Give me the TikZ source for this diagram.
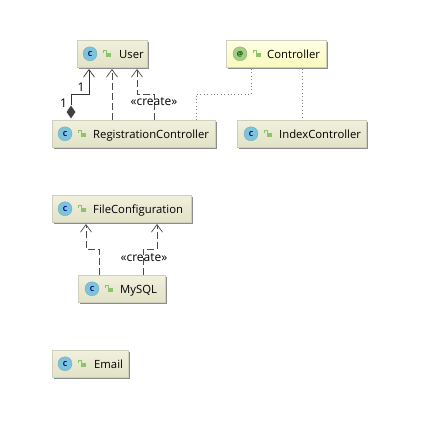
\documentclass[tikz,border=0pt]{standalone}
\usepackage{fontspec}
\setmainfont{Open Sans}
\usetikzlibrary{arrows.meta,positioning,calc,shadows,shapes.geometric}
\definecolor{boxtop}{HTML}{F0F0DE}
\definecolor{boxbot}{HTML}{E2E2C6}
\definecolor{yeltop}{HTML}{FFFFE4}
\definecolor{yelbot}{HTML}{F9F9BE}
\definecolor{boxedge}{HTML}{CFCFBE}
\definecolor{cicon}{HTML}{7CC3DB}
\definecolor{aicon}{HTML}{A4CE84}
\definecolor{lockc}{HTML}{8CC46A}
\tikzset{
  x=1pt,y=-1pt,
  umlbox/.style={draw=boxedge,line width=.5pt,anchor=north west,minimum height=27pt,inner sep=0pt,
    top color=boxtop,bottom color=boxbot,
    general shadow={shadow xshift=1.6pt,shadow yshift=-1.7pt,fill=black!45}},
  annbox/.style={umlbox,top color=yeltop,bottom color=yelbot},
  ttl/.style={font=\fontsize{11.3}{13}\selectfont,text=black,anchor=base west,inner sep=0pt,yshift=-4.6pt},
  lbl/.style={font=\fontsize{12}{14}\selectfont,text=black,inner sep=0pt},
  cic/.style={circle,fill=cicon,draw=cicon!85!black,line width=.3pt,minimum size=14pt,inner sep=0pt,font=\fontsize{7}{8}\bfseries\selectfont,text=blue!45!black},
  aic/.style={cic,fill=aicon,draw=aicon!80!black,text=black!70!green},
  lockic/.style={fill=lockc,minimum width=5pt,minimum height=4pt,inner sep=0pt},
  dep/.style={draw=black!70,line width=.8pt,dash pattern=on 7pt off 3pt,-{Straight Barb[length=7.5pt,width=11pt,line width=.7pt]}},
  assoc/.style={draw=black!80,line width=.9pt,-{Straight Barb[length=7.5pt,width=11pt,line width=.7pt]}},
  annline/.style={draw=black!50,line width=.7pt,dash pattern=on .8pt off 2.6pt},
  dia/.style={diamond,fill=black!75,draw=none,inner sep=0pt,minimum width=9pt,minimum height=13pt},
}
\newcommand{\lockat}[2]{%
  \node[lockic] (#2) at ($(#1)+(18,1.5)$) {};
  \draw[lockc,line width=.8pt] ($(#2.north west)+(-1.6,0)$) -- ++(0,-2.6) -- ++(3,0) -- ++(0,2.2);}
\begin{document}
\begin{tikzpicture}
\useasboundingbox (0,0) rectangle (430,424);
\fill[white] (0,0) rectangle (430,424);

% boxes
\node[umlbox,minimum width=70pt] (user) at (77,40) {};
\node[annbox,minimum width=100pt] (ctrl) at (226,40) {};
\node[umlbox,minimum width=163pt] (reg) at (52,120) {};
\node[umlbox,minimum width=129pt] (idx) at (237,120) {};
\node[umlbox,minimum width=139pt] (file) at (52,195) {};
\node[umlbox,minimum width=87pt] (mysql) at (78,275) {};
\node[umlbox,minimum width=76pt] (email) at (52,350) {};

% icons and titles
\node[cic] (ucic) at ($(user.west)+(13,0)$) {C};
\lockat{ucic}{ulock}
\node[ttl] (utxt) at ($(user.west)+(42,0)$) {User};
\node[aic] (ccic) at ($(ctrl.west)+(14,0)$) {@};
\lockat{ccic}{clock}
\node[ttl] (ctxt) at ($(ctrl.west)+(41,0)$) {Controller};
\node[cic] (rcic) at ($(reg.west)+(13,0)$) {C};
\lockat{rcic}{rlock}
\node[ttl] (rtxt) at ($(reg.west)+(41,0)$) {RegistrationController};
\node[cic] (icic) at ($(idx.west)+(14,0)$) {C};
\lockat{icic}{ilock}
\node[ttl] (itxt) at ($(idx.west)+(42,0)$) {IndexController};
\node[cic] (fcic) at ($(file.west)+(13,0)$) {C};
\lockat{fcic}{flock}
\node[ttl] (ftxt) at ($(file.west)+(41,0)$) {FileConfiguration};
\node[cic] (mcic) at ($(mysql.west)+(14,0)$) {C};
\lockat{mcic}{mlock}
\node[ttl] (mtxt) at ($(mysql.west)+(42,0)$) {MySQL};
\node[cic] (ecic) at ($(email.west)+(13,0)$) {C};
\lockat{ecic}{elock}
\node[ttl] (etxt) at ($(email.west)+(42,0)$) {Email};

% free connector ends
\coordinate (u1) at (89,69);
\coordinate (u2) at (112,69);
\coordinate (u3) at (137,69);
\coordinate (r2) at (112,120);
\coordinate (r3) at (154,120);
\coordinate (r4) at (196,120);
\coordinate (c1) at (251,69);
\coordinate (c2) at (302,69);
\coordinate (i2) at (302,120);
\coordinate (f1) at (86,224);
\coordinate (f2) at (157,224);
\coordinate (m1) at (99,275);
\coordinate (m2) at (143,275);

% connectors
\node[dia] (dm) at (71,112) {};
\draw[assoc] (dm.north) |- (89,94) -- (u1);
\draw[dep] (r2) -- (u2);
\draw[dep] (r3) |- (137,94) -- (u3);
\draw[annline] (c1) |- (196,94) -- (r4);
\draw[annline] (c2) -- (i2);
\draw[dep] (m1) |- (86,249) -- (f1);
\draw[dep] (m2) |- (157,249) -- (f2);

% labels
\node[lbl] (l1) at (81,87) {1};
\node[lbl] (l2) at (63.5,103) {1};
\node[lbl] (l3) at (154,102) {«create»};
\node[lbl] (l4) at (144,258) {«create»};
\end{tikzpicture}
\end{document}
